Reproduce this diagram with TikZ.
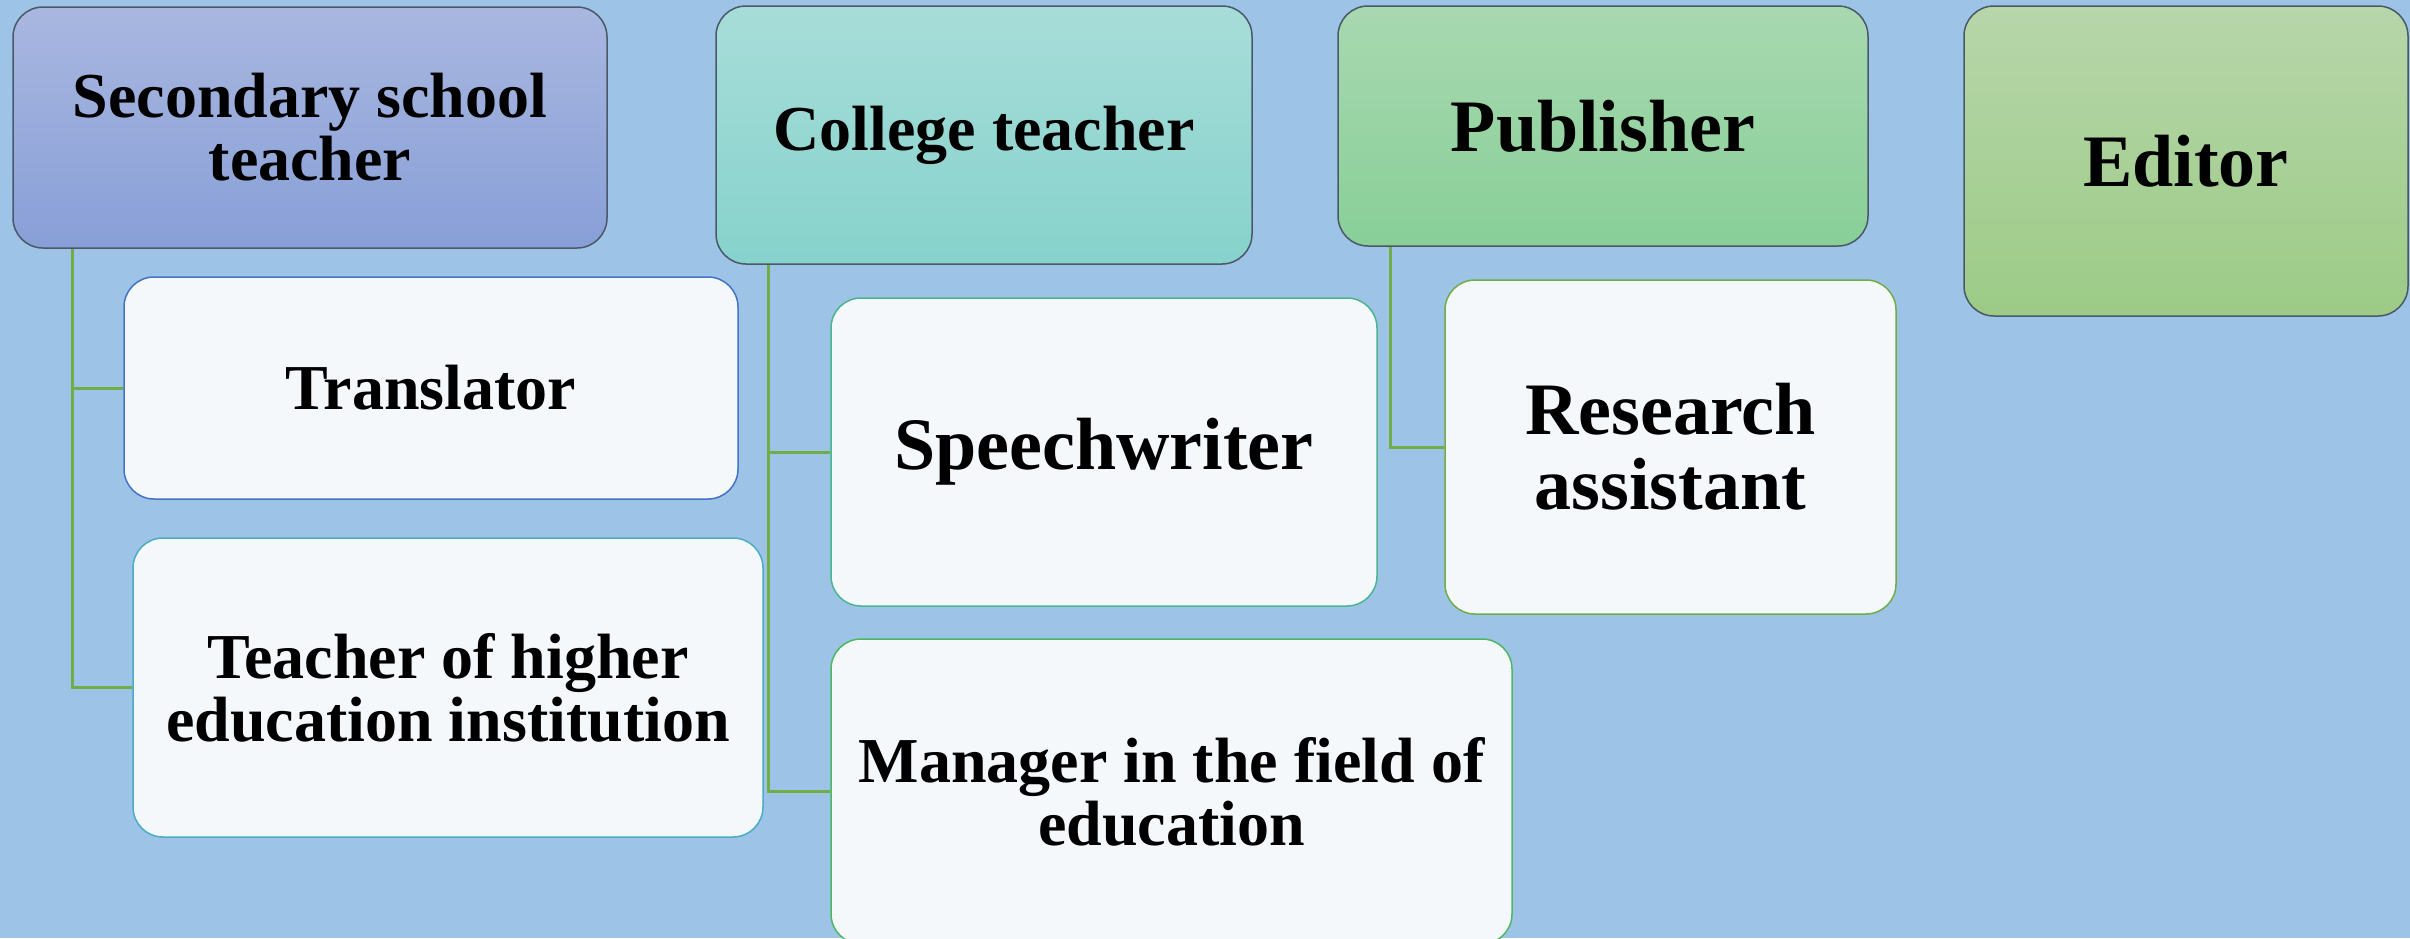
\documentclass[tikz,border=0pt]{standalone}
\usepackage{fontspec}
\setmainfont{Liberation Serif}
\definecolor{bg}{HTML}{9DC3E6}
\definecolor{secT}{HTML}{A9B7E0}
\definecolor{secB}{HTML}{889FD7}
\definecolor{colT}{HTML}{A8DDD9}
\definecolor{colB}{HTML}{86D2CC}
\definecolor{pubT}{HTML}{A8D8B0}
\definecolor{pubB}{HTML}{88CF98}
\definecolor{ediT}{HTML}{B7D6AA}
\definecolor{ediB}{HTML}{9CCB86}
\definecolor{pborder}{HTML}{4A5868}
\definecolor{cfill}{HTML}{F5F8FB}
\definecolor{lgreen}{HTML}{70AD47}
\definecolor{btra}{HTML}{4472C4}
\definecolor{btea}{HTML}{4BACC6}
\definecolor{bspe}{HTML}{4BB58E}
\definecolor{bman}{HTML}{4DB863}
\definecolor{bres}{HTML}{70AD47}
\tikzset{
  box/.style={rounded corners=30pt, inner sep=0pt, align=center, font=\bfseries},
  parent/.style={box, draw=pborder, line width=1.5pt},
  child/.style={box, fill=cfill, line width=1.5pt},
  big/.style={font=\fontsize{64}{63}\selectfont\bfseries},
  huge/.style={font=\fontsize{74}{75}\selectfont\bfseries},
  link/.style={draw=lgreen, line width=3pt}
}
\begin{document}
\begin{tikzpicture}[x=1pt,y=-1pt]
\useasboundingbox (0,0) rectangle (2410,938);
\clip (0,0) rectangle (2410,938);
\fill[bg] (0,0) rectangle (2410,938);
% parents
\node[parent, big, top color=secT, bottom color=secB, minimum width=594pt, minimum height=241pt] (sec) at (310,127.5) {Secondary school\\teacher};
\node[parent, big, top color=colT, bottom color=colB, minimum width=536pt, minimum height=258pt] (col) at (984,135) {College teacher};
\node[parent, huge, top color=pubT, bottom color=pubB, minimum width=530pt, minimum height=240pt] (pub) at (1603,126) {Publisher};
\node[parent, huge, top color=ediT, bottom color=ediB, minimum width=444pt, minimum height=310pt] (edi) at (2186,161) {Editor};
% children
\node[child, big, draw=btra, minimum width=614pt, minimum height=222pt] (tra) at (431,388) {Translator};
\node[child, big, draw=btea, minimum width=630pt, minimum height=299pt] (tea) at (448,687.5) {Teacher of higher\\education institution};
\node[child, huge, draw=bspe, minimum width=546pt, minimum height=308pt] (spe) at (1104,452) {Speechwriter};
\node[child, big, draw=bman, minimum width=681pt, minimum height=305pt] (man) at (1171.5,791.5) {Manager in the field of\\education};
\node[child, huge, draw=bres, minimum width=451pt, minimum height=334pt] (res) at (1670.5,447) {Research\\assistant};
% connectors
\draw[link] ([xshift=60pt]sec.south west) |- (tra.west);
\draw[link] ([xshift=60pt]sec.south west) |- (tea.west);
\draw[link] ([xshift=53pt]col.south west) |- (spe.west);
\draw[link] ([xshift=53pt]col.south west) |- (man.west);
\draw[link] ([xshift=53pt]pub.south west) |- (res.west);
\end{tikzpicture}
\end{document}
